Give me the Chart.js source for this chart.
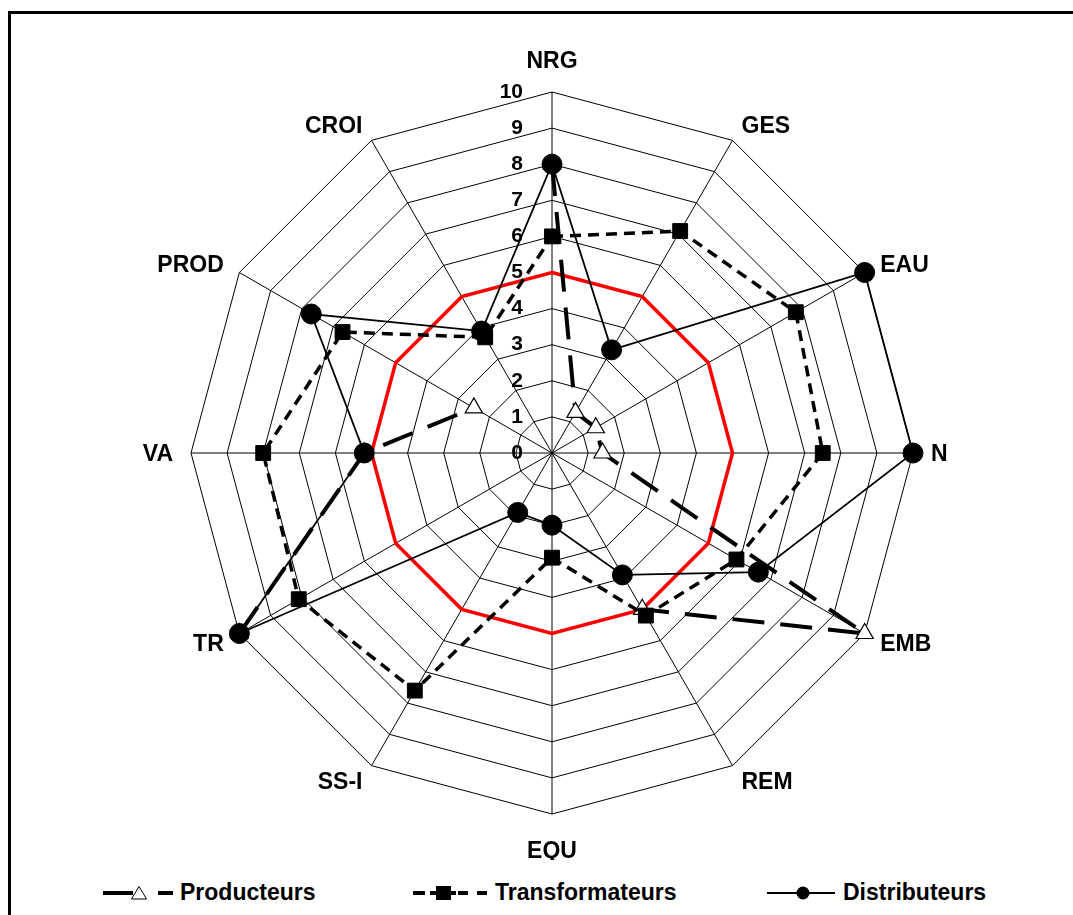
<!DOCTYPE html>
<html>
<head>
<meta charset="utf-8">
<script src="https://cdn.jsdelivr.net/npm/chart.js@4.4.1/dist/chart.umd.min.js"></script>
<style>
  html, body { margin: 0; padding: 0; background: #fff; overflow: hidden; width: 1073px; height: 915px; }
  #cadre { position: absolute; left: 8px; top: 11px; width: 1090px; height: 930px; border: 3px solid #000; box-sizing: border-box; }
  #zone { position: absolute; left: 21px; top: 46px; width: 1062px; height: 814px; }
  .leg { position: absolute; top: 878px; font-family: 'Liberation Sans', Arial, sans-serif; font-weight: bold; font-size: 23px; line-height: 28px; color: #000; white-space: nowrap; }
  .ech { position: absolute; top: 882px; }
</style>
</head>
<body>
<div id="cadre"></div>
<div id="zone"><canvas id="radar"></canvas></div>

<!-- légende -->
<svg class="ech" style="left:100px" width="80" height="22">
  <line x1="3" y1="11" x2="33" y2="11" stroke="#000" stroke-width="4"/>
  <polygon points="39,4.5 46.5,17 31.5,17" fill="#fff" stroke="#000" stroke-width="1"/>
  <line x1="58" y1="11" x2="73" y2="11" stroke="#000" stroke-width="4"/>
</svg>
<div class="leg" style="left:180px">Producteurs</div>

<svg class="ech" style="left:410px" width="82" height="22">
  <line x1="3" y1="11" x2="15" y2="11" stroke="#000" stroke-width="4"/>
  <line x1="20" y1="11" x2="46" y2="11" stroke="#000" stroke-width="4"/>
  <rect x="26" y="4" width="15" height="14" fill="#000"/>
  <line x1="48" y1="11" x2="58" y2="11" stroke="#000" stroke-width="4"/>
  <line x1="67" y1="11" x2="77" y2="11" stroke="#000" stroke-width="4"/>
</svg>
<div class="leg" style="left:495px">Transformateurs</div>

<svg class="ech" style="left:765px" width="74" height="22">
  <line x1="2" y1="11" x2="70" y2="11" stroke="#000" stroke-width="2"/>
  <circle cx="38" cy="11" r="6.5" fill="#000"/>
</svg>
<div class="leg" style="left:843px">Distributeurs</div>

<script>
// Axes du radar (sens horaire depuis le haut)
var criteres = ['NRG', 'GES', 'EAU', 'N', 'EMB', 'REM', 'EQU', 'SS-I', 'TR', 'VA', 'PROD', 'CROI'];

// Notes (null = pas de valeur)
var producteurs = [8, 1.3, 1.4, 1.4, 10, 5, null, null, 10, 5.2, 2.5, null];
var transformateurs = [6, 7.1, 7.8, 7.5, 5.9, 5.2, 2.9, 7.6, 8.1, 8.0, 6.7, 3.7];
var distributeurs = [8, 3.3, 10, 10, 6.6, 3.9, 2.0, 1.9, 10, 5.2, 7.7, 3.9];
var seuil = [5, 5, 5, 5, 5, 5, 5, 5, 5, 5, 5, 5];

// Graduations de l'échelle
var valeursEchelle = [0, 1, 2, 3, 4, 5, 6, 7, 8, 9, 10];

var police = "'Liberation Sans', Arial, sans-serif";

// Plugin pour écrire les graduations à gauche de l'axe vertical
var graduations = {
    id: 'graduations',
    beforeDatasetsDraw: function(chart) {
        var r = chart.scales.r;
        var ctx = chart.ctx;
        ctx.save();
        ctx.font = 'bold 21px ' + police;
        ctx.fillStyle = '#000';
        ctx.textAlign = 'right';
        ctx.textBaseline = 'middle';
        valeursEchelle.forEach(function(v) {
            ctx.fillText(String(v), r.xCenter - 29, r.yCenter - r.getDistanceFromCenterForValue(v));
        });
        ctx.restore();
    }
};

// Plugin pour les noms des axes (centrés verticalement comme dans Excel)
var etiquettes = {
    id: 'etiquettes',
    beforeDatasetsDraw: function(chart) {
        var r = chart.scales.r;
        var ctx = chart.ctx;
        ctx.save();
        ctx.font = 'bold 23px ' + police;
        ctx.fillStyle = '#000';
        ctx.textBaseline = 'alphabetic';
        criteres.forEach(function(nom, i) {
            var p = r.getPointPosition(i, r.drawingArea + 18);
            var dx = p.x - r.xCenter;
            var dy = p.y - r.yCenter;
            var y;
            if (Math.abs(dx) < 1) {
                ctx.textAlign = 'center';
                y = dy < 0 ? p.y - 6 : p.y + 26;
            } else {
                ctx.textAlign = dx > 0 ? 'left' : 'right';
                y = p.y + 8;
            }
            ctx.fillText(nom, p.x, y);
        });
        ctx.restore();
    }
};

var ctx = document.getElementById('radar').getContext('2d');
window.myChart = new Chart(ctx, {
    type: 'radar',
    data: {
        labels: criteres,
        datasets: [{
            label: 'Producteurs',
            data: producteurs,
            order: 3,
            fill: false,
            borderColor: '#000',
            borderWidth: 4,
            borderDash: [32, 16],
            pointStyle: 'triangle',
            pointRadius: 10,
            pointBackgroundColor: '#fff',
            pointBorderColor: '#000',
            pointBorderWidth: 1.2
        }, {
            label: 'Transformateurs',
            data: transformateurs,
            order: 2,
            fill: false,
            borderColor: '#000',
            borderWidth: 3.5,
            borderDash: [11, 7],
            pointStyle: 'rect',
            pointRadius: 10.5,
            pointBackgroundColor: '#000',
            pointBorderColor: '#000',
            pointBorderWidth: 1
        }, {
            label: 'Distributeurs',
            data: distributeurs,
            order: 1,
            fill: false,
            borderColor: '#000',
            borderWidth: 1.8,
            pointStyle: 'circle',
            pointRadius: 10,
            pointBackgroundColor: '#000',
            pointBorderColor: '#000',
            pointBorderWidth: 1
        }, {
            label: 'Seuil',
            data: seuil,
            order: 4,
            fill: false,
            borderColor: '#ff0000',
            borderWidth: 3.5,
            pointRadius: 0
        }]
    },
    options: {
        responsive: true,
        maintainAspectRatio: false,
        animation: false,
        layout: { padding: 46 },
        plugins: {
            legend: { display: false },
            tooltip: { enabled: false }
        },
        scales: {
            r: {
                min: 0,
                max: 10,
                ticks: { stepSize: 1, display: false },
                grid: { color: '#000', lineWidth: 1 },
                angleLines: { color: '#000', lineWidth: 1 },
                pointLabels: { display: false }
            }
        }
    },
    plugins: [graduations, etiquettes]
});
</script>
</body>
</html>
